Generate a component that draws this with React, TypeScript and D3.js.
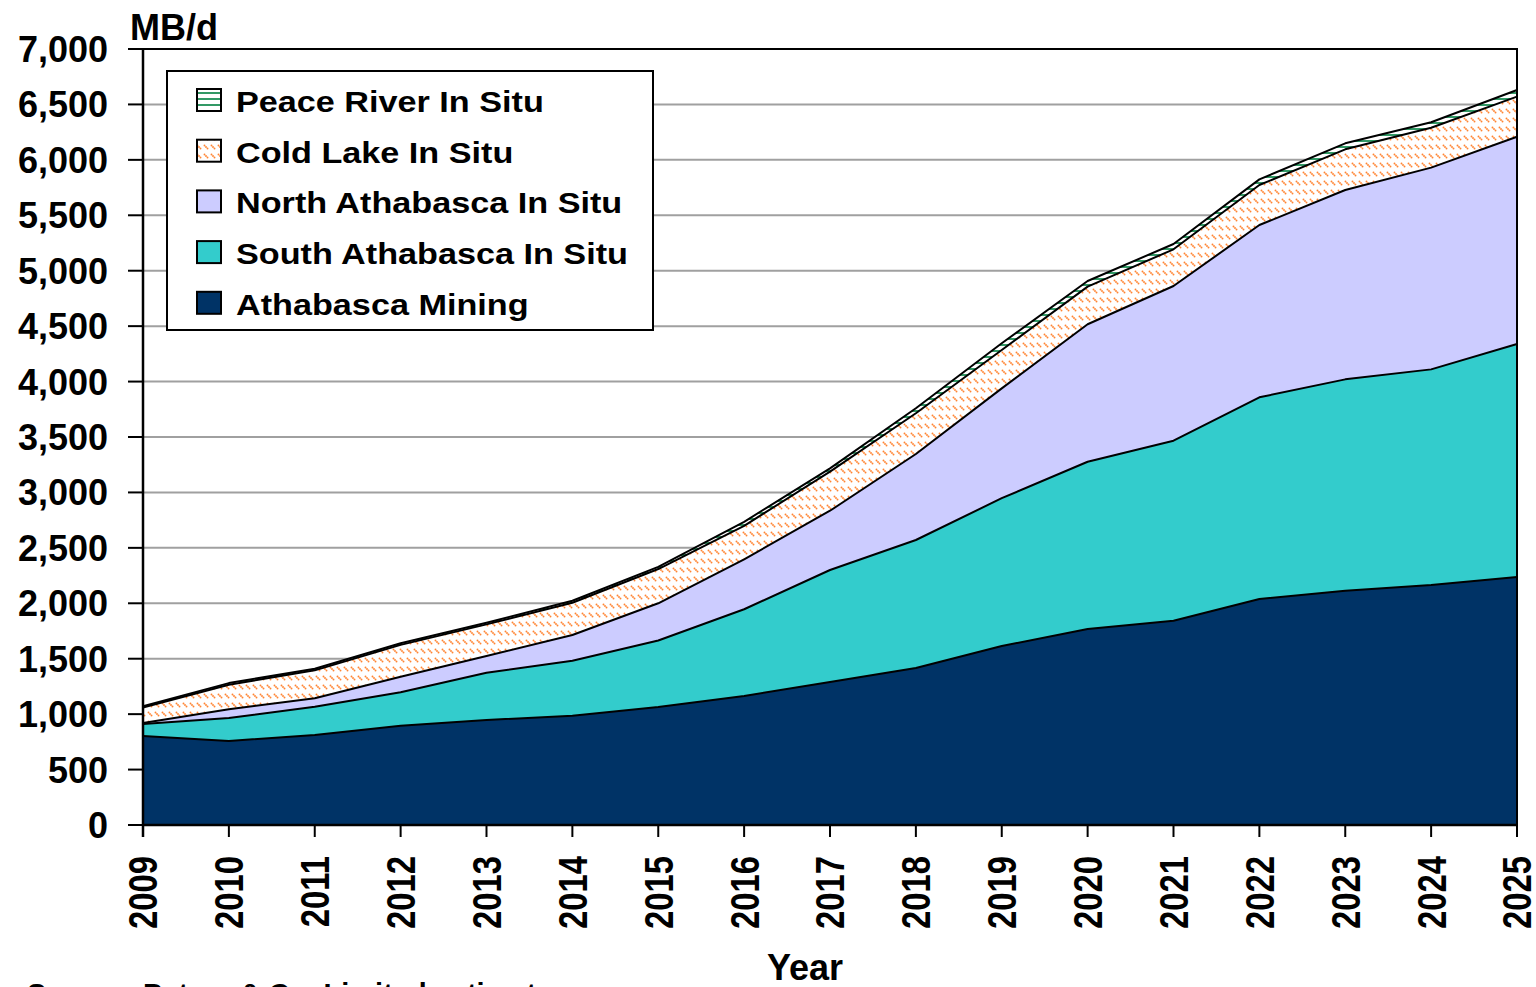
import * as d3 from "d3";
import React from "react";

// oil sands supply by region, MB/d
const years = [2009, 2010, 2011, 2012, 2013, 2014, 2015, 2016, 2017, 2018, 2019, 2020, 2021, 2022, 2023, 2024, 2025];
const athabascaMining = [803, 758, 812, 896, 947, 986, 1064, 1164, 1290, 1416, 1615, 1768, 1843, 2039, 2114, 2165, 2237];
const southAthabasca = [108, 207, 255, 301, 427, 496, 600, 782, 1010, 1155, 1333, 1509, 1624, 1819, 1906, 1945, 2102];
const northAthabasca = [10, 80, 76, 141, 150, 232, 336, 451, 535, 776, 991, 1240, 1395, 1554, 1708, 1820, 1870];
const coldLake = [139, 220, 252, 287, 286, 291, 309, 302, 352, 367, 346, 339, 331, 361, 367, 360, 361];
const peaceRiver = [12, 15, 15, 15, 15, 18, 20, 36, 30, 45, 60, 51, 48, 51, 54, 49, 60];
const yTicks = [0, 500, 1000, 1500, 2000, 2500, 3000, 3500, 4000, 4500, 5000, 5500, 6000, 6500, 7000];

const seriesKeys = ["mining", "south", "north", "cold", "peace"];
const seriesNames = {
    mining: "Athabasca Mining",
    south: "South Athabasca In Situ",
    north: "North Athabasca In Situ",
    cold: "Cold Lake In Situ",
    peace: "Peace River In Situ",
};
const fills = {
    mining: "#003366",
    south: "#33CCCC",
    north: "#CCCCFF",
    cold: "url(#coldPat)",
    peace: "url(#peacePat)",
};

const font = "'Liberation Sans', Arial, sans-serif";

const App = () => {
    const width = 1536;
    const height = 987;
    const left = 143;
    const right = 1517;
    const top = 49;
    const bottom = 825;

    const rows = years.map((y, i) => ({
        year: y,
        mining: athabascaMining[i],
        south: southAthabasca[i],
        north: northAthabasca[i],
        cold: coldLake[i],
        peace: peaceRiver[i],
    }));

    const xScale = d3.scaleLinear().domain([2009, 2025]).range([left, right]);
    const yScale = d3.scaleLinear().domain([0, 7000]).range([bottom, top]);

    const stacked = d3.stack().keys(seriesKeys)(rows);

    const area = d3.area()
        .x((d) => xScale(d.data.year))
        .y0((d) => yScale(d[0]))
        .y1((d) => yScale(d[1]));
    const topLine = d3.line()
        .x((d) => xScale(d.data.year))
        .y((d) => yScale(d[1]));

    const legendItems = [...seriesKeys].reverse();

    return (
        <svg width={width} height={height} style={{ position: "absolute", left: 0, top: 0, background: "#fff" }}>
            <defs>
                <pattern id="coldPat" width="7" height="9" patternUnits="userSpaceOnUse">
                    <rect width="7" height="9" fill="#fff" />
                    <circle cx="1.5" cy="1.5" r="0.95" fill="#FF8533" />
                    <circle cx="3" cy="3" r="0.95" fill="#FF8533" />
                    <circle cx="4.5" cy="4.5" r="0.95" fill="#FF8533" />
                </pattern>
                <pattern id="peacePat" width="8" height="6" patternUnits="userSpaceOnUse">
                    <rect width="8" height="6" fill="#fff" />
                    <line x1="0" y1="3" x2="8" y2="3" stroke="#339966" strokeWidth="2" />
                </pattern>
            </defs>

            {/* grid */}
            {yTicks.map((t) => (
                <line key={"g" + t} x1={left} x2={right} y1={yScale(t)} y2={yScale(t)} stroke="#a0a0a0" strokeWidth={2} />
            ))}

            {/* stacked areas */}
            {stacked.map((s) => (
                <path key={s.key} d={area(s)} fill={fills[s.key]} />
            ))}
            {stacked.map((s) => (
                <path key={"l" + s.key} d={topLine(s)} fill="none" stroke="#000" strokeWidth={2} strokeLinejoin="round" />
            ))}

            {/* frame */}
            <line x1={128} x2={right + 1} y1={top} y2={top} stroke="#000" strokeWidth={2} />
            <line x1={right} x2={right} y1={top} y2={bottom} stroke="#000" strokeWidth={2} />
            <line x1={left} x2={left} y1={top} y2={bottom + 12} stroke="#000" strokeWidth={2.5} />
            <line x1={left} x2={right + 1} y1={bottom} y2={bottom} stroke="#000" strokeWidth={2.5} />

            {/* y axis */}
            {yTicks.map((t) => (
                <g key={"y" + t}>
                    <line x1={128} x2={left} y1={yScale(t)} y2={yScale(t)} stroke="#000" strokeWidth={2} />
                    <text x={108} y={yScale(t) + 13} textAnchor="end" fontFamily={font} fontWeight="bold" fontSize={36}>
                        {d3.format(",")(t)}
                    </text>
                </g>
            ))}

            {/* x axis */}
            {years.map((y) => (
                <g key={"x" + y}>
                    <line x1={xScale(y)} x2={xScale(y)} y1={bottom} y2={bottom + 12} stroke="#000" strokeWidth={2} />
                    <text
                        transform={`translate(${xScale(y)}, 856) rotate(-90) scale(0.82, 1)`}
                        textAnchor="end"
                        dy="0.36em"
                        fontFamily={font}
                        fontWeight="bold"
                        fontSize={40}
                    >
                        {y}
                    </text>
                </g>
            ))}

            <text x={130} y={40} fontFamily={font} fontWeight="bold" fontSize={36}>MB/d</text>
            <text x={805} y={980} textAnchor="middle" fontFamily={font} fontWeight="bold" fontSize={36}>Year</text>
            <text x={27} y={1004} fontFamily={font} fontWeight="bold" fontSize={29}>Source: Peters &amp; Co. Limited estimates</text>

            {/* legend */}
            <rect x={167} y={71} width={486} height={259} fill="#fff" stroke="#000" strokeWidth={2} />
            {legendItems.map((k, i) => {
                const base = 112 + i * 50.7;
                return (
                    <g key={"lg" + k}>
                        <rect x={197} y={base - 23} width={24} height={22} fill={fills[k]} stroke="#000" strokeWidth={2} />
                        <text
                            transform={`translate(236, ${base}) scale(1.14, 1)`}
                            fontFamily={font}
                            fontWeight="bold"
                            fontSize={30}
                        >
                            {seriesNames[k]}
                        </text>
                    </g>
                );
            })}
        </svg>
    );
};

export default App;
